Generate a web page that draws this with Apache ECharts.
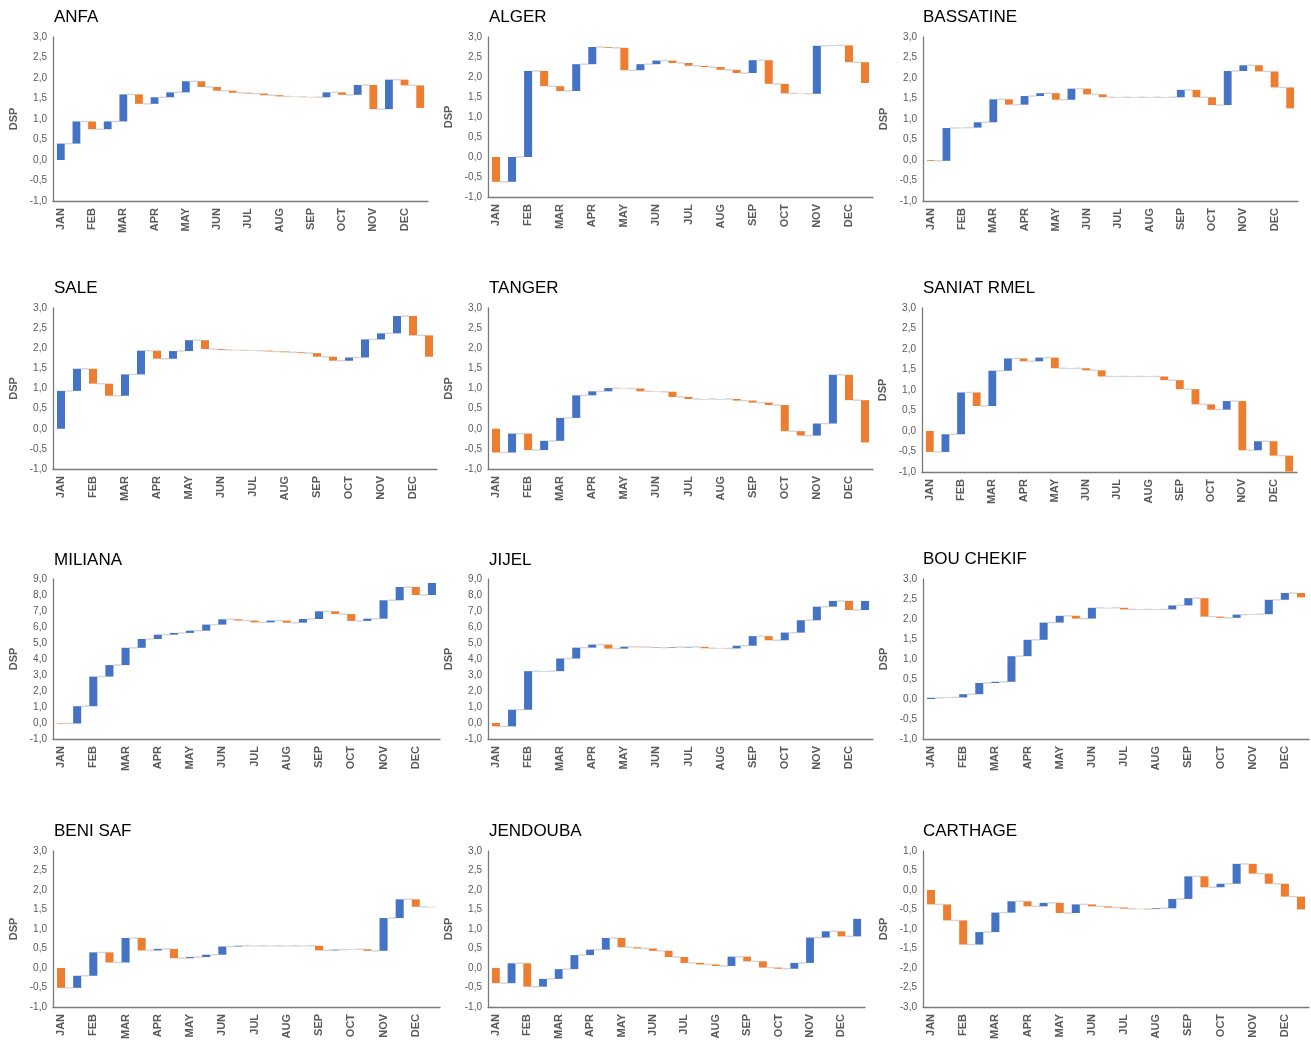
<!DOCTYPE html>
<html><head><meta charset="utf-8">
<script src="https://cdn.jsdelivr.net/npm/echarts@6/dist/echarts.min.js"></script>
<style>html,body{margin:0;padding:0;background:#fff}#c{width:1311px;height:1042px}</style>
</head><body><div id="c"></div>
<script>
// ---- data (cumulative DSP level at the end of each half-month step) ----
const MONTHS = ['JAN','FEB','MAR','APR','MAY','JUN','JUL','AUG','SEP','OCT','NOV','DEC'];
const TITLES = ['ANFA','ALGER','BASSATINE','SALE','TANGER','SANIAT RMEL','MILIANA','JIJEL','BOU CHEKIF','BENI SAF','JENDOUBA','CARTHAGE'];
const ANFA      = [0.40,0.94,0.75,0.94,1.60,1.37,1.53,1.65,1.92,1.78,1.69,1.64,1.62,1.58,1.55,1.54,1.53,1.65,1.59,1.83,1.24,1.96,1.82,1.27];
const ALGER     = [-0.62,0.00,2.15,1.77,1.65,2.32,2.75,2.73,2.17,2.32,2.41,2.35,2.28,2.25,2.18,2.10,2.42,1.83,1.59,1.58,2.78,2.79,2.37,1.85];
const BASSATINE = [-0.02,0.78,0.79,0.92,1.48,1.35,1.56,1.63,1.47,1.74,1.60,1.53,1.53,1.53,1.53,1.53,1.71,1.53,1.34,2.17,2.31,2.16,1.77,1.26];
const SALE      = [0.94,1.49,1.12,0.82,1.35,1.94,1.74,1.93,2.20,1.98,1.96,1.95,1.94,1.92,1.90,1.88,1.79,1.69,1.77,2.22,2.37,2.80,2.32,1.79];
const TANGER    = [-0.59,-0.12,-0.53,-0.30,0.27,0.83,0.93,1.01,1.00,0.93,0.92,0.79,0.74,0.74,0.74,0.70,0.65,0.59,-0.06,-0.17,0.13,1.34,0.71,-0.34];
const SANIAT    = [-0.51,-0.08,0.94,0.61,1.47,1.77,1.70,1.79,1.53,1.53,1.48,1.33,1.33,1.33,1.33,1.24,1.02,0.65,0.52,0.73,-0.47,-0.25,-0.60,-0.99];
const MILIANA   = [-0.03,1.05,2.90,3.62,4.70,5.25,5.52,5.63,5.77,6.15,6.48,6.40,6.29,6.40,6.27,6.50,6.98,6.81,6.38,6.52,7.67,8.50,8.00,8.75];
const JIJEL     = [-0.21,0.83,3.24,3.24,4.03,4.71,4.90,4.65,4.77,4.74,4.71,4.74,4.76,4.67,4.66,4.83,5.43,5.17,5.65,6.42,7.27,7.63,7.06,7.63];
const BOUCHEKIF = [0.03,0.04,0.12,0.40,0.43,1.07,1.48,1.91,2.08,2.01,2.28,2.28,2.24,2.24,2.24,2.34,2.52,2.06,2.03,2.11,2.12,2.48,2.65,2.54];
const BENISAF   = [-0.51,-0.20,0.40,0.14,0.77,0.45,0.49,0.25,0.28,0.34,0.55,0.57,0.57,0.57,0.57,0.57,0.45,0.47,0.48,0.44,1.28,1.76,1.57,1.56];
const JENDOUBA  = [-0.39,0.12,-0.48,-0.28,-0.03,0.33,0.47,0.77,0.53,0.50,0.44,0.28,0.13,0.09,0.05,0.29,0.17,0.01,-0.02,0.13,0.78,0.94,0.81,1.26];
const CARTHAGE  = [-0.37,-0.78,-1.40,-1.08,-0.58,-0.29,-0.42,-0.33,-0.59,-0.37,-0.42,-0.45,-0.48,-0.49,-0.47,-0.23,0.35,0.07,0.16,0.67,0.42,0.16,-0.17,-0.50];
const SERIES = [ANFA,ALGER,BASSATINE,SALE,TANGER,SANIAT,MILIANA,JIJEL,BOUCHEKIF,BENISAF,JENDOUBA,CARTHAGE];
const Y_MIN  = [-1,-1,-1,-1,-1,-1,-1,-1,-1,-1,-1,-3];
const Y_MAX  = [3,3,3,3,3,3,9,9,3,3,3,1];
const Y_STEP = [0.5,0.5,0.5,0.5,0.5,0.5,1,1,0.5,0.5,0.5,0.5];

// ---- layout ----
const LAYOUT = [
  {x:53, t:37, w:375, h:164, tx:54, ty:9},
  {x:488,t:37, w:385, h:160, tx:489,ty:9},
  {x:923,t:37, w:375, h:164, tx:923,ty:9},
  {x:53, t:308,w:384, h:161, tx:54, ty:280},
  {x:488,t:308,w:385, h:161, tx:489,ty:280},
  {x:922,t:308,w:375, h:164, tx:923,ty:280},
  {x:53, t:579,w:387, h:160, tx:54, ty:552},
  {x:488,t:579,w:385, h:160, tx:489,ty:552},
  {x:923,t:579,w:386, h:160, tx:923,ty:551},
  {x:53, t:851,w:387, h:160, tx:54, ty:823},
  {x:488,t:851,w:377, h:156, tx:489,ty:823},
  {x:923,t:851,w:386, h:160, tx:923,ty:823}
];
const FONT = '"Liberation Sans", Arial, sans-serif';
const BLUE = '#4472C4', ORANGE = '#ED7D31', CONNECT = '#d6d6d6', AXIS = '#7a7a7a', LABEL = '#595959';

const CATS = [];
MONTHS.forEach(m => { CATS.push(m); CATS.push(m + '_'); });
const N = CATS.length;

function renderItem(params, api) {
  const i = api.value(0), s = api.value(1), e = api.value(2);
  const p0 = api.coord([i, s]), p1 = api.coord([i, e]);
  const bw = api.size([1, 0])[0] * 0.5;
  const children = [{
    type: 'rect',
    shape: {x: p0[0] - bw / 2, y: Math.min(p0[1], p1[1]), width: bw, height: Math.max(Math.abs(p0[1] - p1[1]), 0.6)},
    style: {fill: e >= s ? BLUE : ORANGE, opacity: Math.abs(e - s) < 0.015 ? 0.45 : 1}
  }];
  if (i < N - 1) {
    const pn = api.coord([i + 1, e]);
    children.push({
      type: 'line',
      shape: {x1: p1[0] + bw / 2, y1: p1[1], x2: pn[0] - bw / 2, y2: pn[1]},
      style: {stroke: CONNECT, lineWidth: 1.5}
    });
  }
  return {type: 'group', children};
}

const grid = [], xAxis = [], yAxis = [], series = [], title = [];
LAYOUT.forEach((L, k) => {
  const lv = SERIES[k];
  grid.push({left: L.x, top: L.t, width: L.w, height: L.h, containLabel: false});
  title.push({text: TITLES[k], left: L.tx, top: L.ty, padding: 0,
    textStyle: {fontFamily: FONT, fontSize: 17, fontWeight: 'normal', color: '#000'}});
  xAxis.push({
    gridIndex: k, type: 'category', data: CATS, boundaryGap: true,
    axisLine: {onZero: false, lineStyle: {color: AXIS, width: 1.3}},
    axisTick: {show: false}, splitLine: {show: false},
    axisLabel: {interval: 0, rotate: 90, margin: 7, fontFamily: FONT, fontSize: 11, fontWeight: 'bold', color: LABEL,
      formatter: v => MONTHS.indexOf(v) >= 0 ? v : ''}
  });
  yAxis.push({
    gridIndex: k, type: 'value', min: Y_MIN[k], max: Y_MAX[k], interval: Y_STEP[k],
    name: 'DSP', nameLocation: 'middle', nameGap: 34,
    nameTextStyle: {fontFamily: FONT, fontSize: 11, fontWeight: 'bold', color: LABEL},
    axisLine: {show: true, lineStyle: {color: AXIS, width: 1.3}},
    axisTick: {show: false}, splitLine: {show: false},
    axisLabel: {margin: 6, fontFamily: FONT, fontSize: 10, color: LABEL,
      formatter: v => v.toFixed(1).replace('.', ',')}
  });
  series.push({
    type: 'custom', xAxisIndex: k, yAxisIndex: k, renderItem,
    encode: {x: 0, y: [1, 2]}, clip: false, silent: true,
    data: lv.map((v, i) => [i, i === 0 ? 0 : lv[i - 1], v])
  });
});

const chart = echarts.init(document.getElementById('c'), null, {renderer: 'canvas'});
chart.setOption({animation: false, backgroundColor: '#fff', title, grid, xAxis, yAxis, series});
</script>
</body></html>
